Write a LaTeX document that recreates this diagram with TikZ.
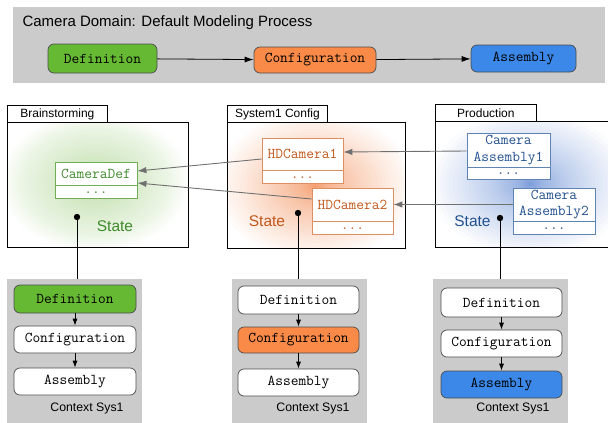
\documentclass[tikz,border=0pt]{standalone}
\usepackage{fontspec}
\setmainfont{Liberation Sans}
\setmonofont{Latin Modern Mono}
\usetikzlibrary{arrows.meta,calc}

\definecolor{panelgray}{HTML}{CBCBCB}
\definecolor{defgreen}{HTML}{66B933}
\definecolor{confor}{HTML}{FA8A48}
\definecolor{asmblue}{HTML}{3B88E8}
\definecolor{stgreen}{HTML}{3E8A2C}
\definecolor{storange}{HTML}{C2571B}
\definecolor{stblue}{HTML}{23508F}
\definecolor{bdgreen}{HTML}{70AD55}
\definecolor{bdorange}{HTML}{DD8F62}
\definecolor{bdblue}{HTML}{5F84B4}
\definecolor{linkgray}{HTML}{707070}
\definecolor{glowg}{HTML}{8CC466}
\definecolor{glowo}{HTML}{F07A3A}
\definecolor{glowb}{HTML}{3A6CC8}

\newcommand{\monofont}{\fontsize{15}{16.5}\selectfont\ttfamily}

% soft radial glow built from stacked translucent ellipses
% #1 colour, #2 centre, #3 x radius, #4 y radius, #5 layer opacity, #6 falloff exponent
\newcommand{\stateglow}[6]{%
  \foreach \k in {1,...,60}{%
    \pgfmathsetmacro\glowf{(\k/60)^#6}%
    \fill[#1, opacity=#5] #2 ellipse [x radius=#3*\glowf, y radius=#4*\glowf];
  }%
}

\begin{document}
\begin{tikzpicture}[x=1pt,y=-1pt,
  procbox/.style={draw=black!70, line width=0.7pt, rounded corners=6pt, inner sep=0pt,
                  font=\monofont, minimum width=121pt, minimum height=27pt, fill=white},
  flow/.style={draw=black, line width=0.8pt, -{Latex[length=9pt,width=6pt]}},
  stepflow/.style={draw=black, line width=0.8pt, -{Latex[length=7pt,width=5pt]}},
  link/.style={draw=linkgray, line width=0.9pt, -{Latex[length=9pt,width=6.5pt]}},
  tab/.style={draw=black, line width=0.8pt, fill=white, anchor=north west, inner sep=0pt,
              minimum height=17pt, font=\fontsize{12}{14}\selectfont},
  lane/.style={draw=black, line width=0.8pt},
  classtop/.style={draw, line width=0.8pt, fill=white, inner sep=0pt, font=\monofont, align=center},
  classbot/.style={draw, line width=0.8pt, fill=white, inner sep=0pt, font=\monofont,
                   minimum height=13pt, anchor=north},
  statelbl/.style={font=\fontsize{15.5}{17}\selectfont},
  ctxpanel/.style={fill=panelgray, inner sep=0pt, minimum width=135pt, minimum height=145pt},
  ctxlbl/.style={font=\fontsize{12.3}{14}\selectfont},
  dot/.style={fill=black}
]
\useasboundingbox (0,0) rectangle (608,423);

% ---------- default process ----------
\fill[panelgray] (13,7) rectangle (605,83);
\node[anchor=base west, font=\fontsize{15}{17}\selectfont] (title) at (19,27)
  {Camera Domain: Default Modeling Process};
\node[procbox, fill=defgreen, minimum width=109pt, minimum height=29pt] (tdef) at (102.5,58.5) {Definition};
\node[procbox, fill=confor, minimum width=122pt, minimum height=26pt] (tconf) at (315,60) {Configuration};
\node[procbox, fill=asmblue, minimum width=105pt, minimum height=27pt] (tasm) at (523.5,58.5) {Assembly};
\draw[flow] (tdef) -- (tconf);
\draw[flow] (tconf) -- (tasm);

% ---------- state glows, each kept inside its lane ----------
\begin{scope}
  \clip (7,122) rectangle (188,247);
  \stateglow{glowg}{(95,182)}{95}{70}{0.011}{1}
\end{scope}
\begin{scope}
  \clip (227,122) rectangle (405,248);
  \stateglow{glowo}{(315,186)}{98}{74}{0.028}{3}
\end{scope}
\begin{scope}
  \clip (435,121) rectangle (612,247);
  \stateglow{glowb}{(530,184)}{100}{72}{0.025}{3}
\end{scope}

% ---------- lanes ----------
\draw[lane] (7,122) rectangle (188,247);
\node[tab, minimum width=100pt] (lane1) at (7,105) {Brainstorming};
\draw[lane] (227,122) rectangle (405,248);
\node[tab, minimum width=100pt] (lane2) at (227,105) {System1 Config};
\draw[lane] (435,121) rectangle (612,247);
\node[tab, minimum width=101pt] (lane3) at (435,104) {Production};

% ---------- class boxes ----------
\node[classtop, draw=bdgreen, text=stgreen, minimum width=82pt, minimum height=23pt] (cd) at (96,173.5) {CameraDef};
\node[classbot, draw=bdgreen, text=stgreen, minimum width=82pt] (cdx) at (cd.south) {...};

\node[classtop, draw=bdorange, text=storange, minimum width=81pt, minimum height=32pt] (hd1) at (302.5,154) {HDCamera1};
\node[classbot, draw=bdorange, text=storange, minimum width=81pt] (hd1x) at (hd1.south) {...};
\node[classtop, draw=bdorange, text=storange, minimum width=81pt, minimum height=33pt] (hd2) at (352.5,204.5) {HDCamera2};
\node[classbot, draw=bdorange, text=storange, minimum width=81pt] (hd2x) at (hd2.south) {...};

\node[classtop, draw=bdblue, text=stblue, minimum width=83pt, minimum height=34pt] (ca1) at (508.5,150) {Camera\\Assembly1};
\node[classbot, draw=bdblue, text=stblue, minimum width=83pt, minimum height=12pt] (ca1x) at (ca1.south) {...};
\node[classtop, draw=bdblue, text=stblue, minimum width=82pt, minimum height=33pt] (ca2) at (554,204.5) {Camera\\Assembly2};
\node[classbot, draw=bdblue, text=stblue, minimum width=82pt] (ca2x) at (ca2.south) {...};

% ---------- links between states ----------
\draw[link] ([yshift=-5pt]hd1.west) -- ([yshift=2.5pt]cd.east);
\draw[link] ([yshift=5.5pt]hd2.west) -- ([yshift=-9.5pt]cd.east);
\draw[link] ([yshift=-1pt]ca1.west) -- ([yshift=2pt]hd1.east);
\draw[link] (ca2.west) -- (hd2.east);

% ---------- state labels ----------
\node[statelbl, text=stgreen] (st1) at (115,226) {State};
\node[statelbl, text=storange] (st2) at (267,221) {State};
\node[statelbl, text=stblue] (st3) at (472.5,221) {State};

% ---------- context panels ----------
\node[ctxpanel] (ctx1) at (74.5,351.5) {};
\node[ctxpanel] (ctx2) at (299.5,351.5) {};
\node[ctxpanel] (ctx3) at (500.5,351.5) {};

\coordinate (s1) at (77,217);
\coordinate (s2) at (298,213);
\coordinate (s3) at (500,218);
\draw[line width=0.9pt] (s1) -- (s1 |- ctx1.north);
\draw[line width=0.9pt] (s2) -- (s2 |- ctx2.north);
\draw[line width=0.9pt] (s3) -- (s3 |- ctx3.north);
\fill[dot] (s1) circle (3.2);
\fill[dot] (s2) circle (3.2);
\fill[dot] (s3) circle (3.2);

% context 1
\node[procbox, fill=defgreen, minimum width=122pt, minimum height=28pt] (c1d) at (75,299) {Definition};
\node[procbox, minimum width=122pt] (c1c) at (75,339.5) {Configuration};
\node[procbox, minimum width=122pt] (c1a) at (75,381.5) {Assembly};
\draw[stepflow] (c1d) -- (c1c);
\draw[stepflow] (c1c) -- (c1a);
\node[ctxlbl] (cl1) at (87,408) {Context Sys1};

% context 2
\node[procbox, minimum height=28pt] (c2d) at (298.5,300) {Definition};
\node[procbox, fill=confor, minimum height=26pt] (c2c) at (298.5,340) {Configuration};
\node[procbox] (c2a) at (298.5,382.5) {Assembly};
\draw[stepflow] (c2d) -- (c2c);
\draw[stepflow] (c2c) -- (c2a);
\node[ctxlbl] (cl2) at (313,408) {Context Sys1};

% context 3
\node[procbox, minimum height=29pt] (c3d) at (501.5,302.5) {Definition};
\node[procbox] (c3c) at (501.5,343.5) {Configuration};
\node[procbox, fill=asmblue] (c3a) at (501.5,384.5) {Assembly};
\draw[stepflow] (c3d) -- (c3c);
\draw[stepflow] (c3c) -- (c3a);
\node[ctxlbl] (cl3) at (513,408) {Context Sys1};
\end{tikzpicture}
\end{document}
